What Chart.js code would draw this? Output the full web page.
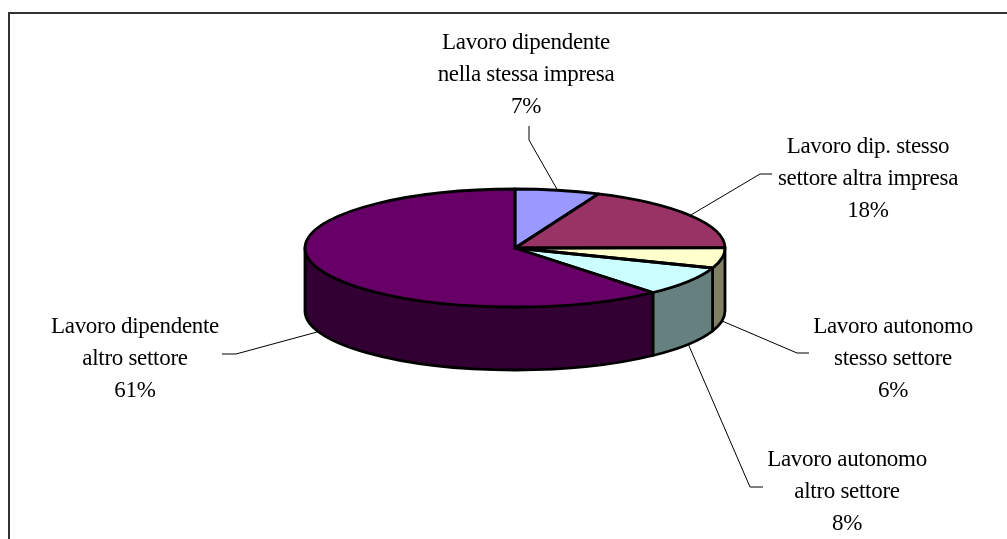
<!DOCTYPE html>
<html>
<head>
<meta charset="utf-8">
<style>html,body{margin:0;padding:0;background:#fff}canvas{display:block}</style>
<script src="https://cdn.jsdelivr.net/npm/chart.js@4"></script>
</head>
<body>
<canvas id="c" width="1007" height="539"></canvas>
<script>
const categories = [
  ["Lavoro dipendente", "nella stessa impresa"],
  ["Lavoro dip. stesso", "settore altra impresa"],
  ["Lavoro autonomo", "stesso settore"],
  ["Lavoro autonomo", "altro settore"],
  ["Lavoro dipendente", "altro settore"]
];
const values = [6.5, 18.4, 5.6, 8.1, 61.4];
const topColors = ["#9999FF", "#993366", "#FFFFCC", "#CCFFFF", "#660066"];
const wallColors = ["#4D4D80", "#4D1A33", "#808066", "#668080", "#330033"];

// Layout of the tilted pie and its annotations
const TILT = 59 / 210, DEPTH = 63;
const labelCenters = [[526, 49], [868, 153], [893, 333], [847, 466], [135, 333]];
const leaders = [
  [[529, 140], [529, 126]],
  [[760, 174], [772, 174]],
  [[797, 353], [809, 353]],
  [[750, 487], [763, 487]],
  [[236, 354], [222, 354]]
];
const LINE_H = 32;
const OUTLINE = 2.8;

function arcs(chart) {
  return chart.getDatasetMeta(0).data.map(a =>
    a.getProps(["x", "y", "startAngle", "endAngle", "outerRadius"], true));
}

const pie3d = {
  id: "pie3d",
  beforeDatasetsDraw(chart) {
    const ctx = chart.ctx;
    ctx.save();
    ctx.lineWidth = OUTLINE;
    ctx.strokeStyle = "#000";
    ctx.lineJoin = "round";
    arcs(chart).forEach((a, i) => {
      const s = Math.max(a.startAngle, 0), e = Math.min(a.endAngle, Math.PI);
      if (e <= s) return;
      const ry = a.outerRadius * TILT;
      ctx.beginPath();
      ctx.ellipse(a.x, a.y, a.outerRadius, ry, 0, s, e);
      ctx.ellipse(a.x, a.y + DEPTH, a.outerRadius, ry, 0, e, s, true);
      ctx.closePath();
      ctx.fillStyle = wallColors[i];
      ctx.fill();
      ctx.stroke();
    });
    ctx.restore();
    const a0 = arcs(chart)[0];
    ctx.save();
    ctx.translate(a0.x, a0.y);
    ctx.scale(1, TILT);
    ctx.translate(-a0.x, -a0.y);
  },
  afterDatasetsDraw(chart) {
    const ctx = chart.ctx;
    ctx.restore();
    const list = arcs(chart);
    ctx.save();
    ctx.lineWidth = OUTLINE;
    ctx.strokeStyle = "#000";
    ctx.lineJoin = "round";
    list.forEach(a => {
      const ry = a.outerRadius * TILT;
      ctx.beginPath();
      ctx.moveTo(a.x, a.y);
      ctx.ellipse(a.x, a.y, a.outerRadius, ry, 0, a.startAngle, a.endAngle);
      ctx.closePath();
      ctx.stroke();
    });
    // leader lines, anchored at the middle of each slice's rim
    ctx.lineWidth = 1;
    ctx.strokeStyle = "#000";
    list.forEach((a, i) => {
      const mid = (a.startAngle + a.endAngle) / 2;
      const ry = a.outerRadius * TILT;
      const wall = Math.sin(mid) > 0 ? DEPTH : 0;
      ctx.beginPath();
      ctx.moveTo(a.x + a.outerRadius * Math.cos(mid), a.y + ry * Math.sin(mid) + wall);
      leaders[i].forEach(p => ctx.lineTo(p[0], p[1]));
      ctx.stroke();
    });
    // labels
    ctx.fillStyle = "#000";
    ctx.font = '23px "Liberation Serif"';
    ctx.letterSpacing = "-0.3px";
    ctx.textAlign = "center";
    ctx.textBaseline = "alphabetic";
    const total = values.reduce((x, y) => x + y, 0);
    categories.forEach((lines, i) => {
      const [x, y] = labelCenters[i];
      const text = lines.concat(Math.round(values[i] / total * 100) + "%");
      text.forEach((t, j) => ctx.fillText(t, x, y + j * LINE_H));
    });
    ctx.restore();
  },
  afterDraw(chart) {
    const ctx = chart.ctx;
    ctx.save();
    ctx.strokeStyle = "#333";
    ctx.lineWidth = 2;
    ctx.beginPath();
    ctx.moveTo(9, 539);
    ctx.lineTo(9, 13);
    ctx.lineTo(1007, 13);
    ctx.stroke();
    ctx.restore();
  }
};

new Chart(document.getElementById("c"), {
  type: "pie",
  data: {
    labels: categories.map(l => l.join(" ")),
    datasets: [{ data: values, backgroundColor: topColors, borderWidth: 0 }]
  },
  options: {
    responsive: false,
    animation: false,
    layout: { padding: { left: 23, right: 0, top: 38, bottom: 81 } },
    plugins: { legend: { display: false }, tooltip: { enabled: false }, title: { display: false } }
  },
  plugins: [pie3d]
});
</script>
</body>
</html>
